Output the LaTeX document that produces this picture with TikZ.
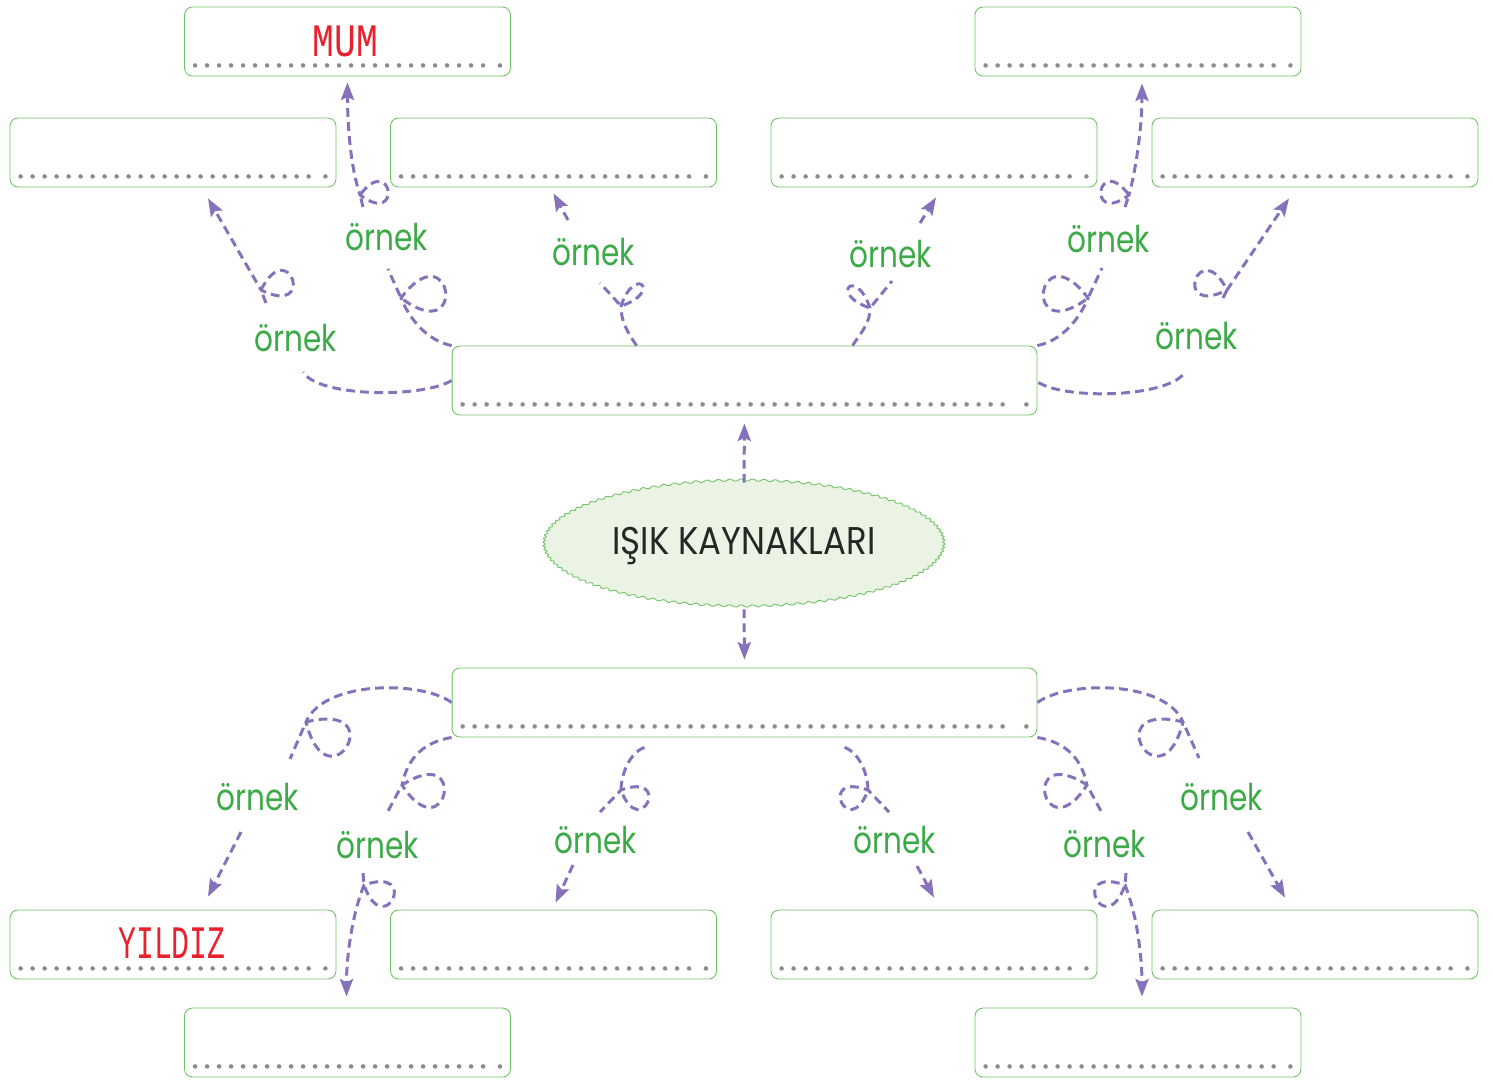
\documentclass[tikz,border=0pt]{standalone}
\usepackage{fontspec}
\usetikzlibrary{arrows.meta, shapes.geometric}
\newfontfamily\kidfont[FakeStretch = 0.8]{Poppins}
\newfontfamily\titlefont[FakeStretch = 0.88]{Poppins}
\newfontfamily\redfont[FakeStretch = 0.64]{Liberation Mono}
\newfontfamily\mumfont[FakeStretch = 0.78]{Liberation Mono}
\definecolor{boxgreen}{RGB}{110,195,100}
\definecolor{srcfill}{RGB}{235,243,229}
\definecolor{ornekgreen}{RGB}{61,170,72}
\definecolor{linkpurple}{RGB}{134,114,186}
\definecolor{answerred}{RGB}{233,33,45}
\definecolor{dotgray}{RGB}{140,140,140}
\begin{document}
\begin{tikzpicture}[x = .02cm, y = -.02cm,
		box/.style = {draw = boxgreen, line width = .5pt, rounded corners = 4.5pt, minimum width = 6.52cm, minimum height = 1.38cm, inner sep = 0pt},
		wide/.style = {box, minimum width = 11.7cm},
		source/.style = {ellipse, minimum width = 8cm, minimum height = 2.52cm, font = \titlefont\fontsize{22}{22}\selectfont, text = black!85},
		ornek/.style = {inner sep = 0pt, text = ornekgreen, font = \kidfont\fontsize{21}{21}\selectfont},
		answer/.style = {text = answerred, font = \redfont\fontsize{26.5}{26.5}\selectfont},
		dots/.style = {draw = dotgray, line width = 2.6pt, line cap = round, dash pattern = on 0pt off 6.83pt},
		dashlink/.style = {draw = linkpurple, line width = 1.7pt, dash pattern = on 5pt off 3pt},
		dasharrow/.style = {dashlink, -{Stealth[length = 10pt, width = 7.5pt, inset = 1.8pt]}}]
	\useasboundingbox (0,0) rectangle (1493,1080);
	\filldraw[fill = srcfill, draw = boxgreen, line width = .5pt] plot[domain = 0:360, samples = 900, smooth] ({744+(200+1.1*sin(10*mod(11*\x,36)))*cos(\x)}, {543+(63+1.1*sin(10*mod(11*\x,36)))*sin(\x)}) -- cycle;
	\node[box] (mum) at (347.5,41.5) {};
	\node[box] (tr) at (1138,41.5) {};
	\node[box] (r1) at (173,152.5) {};
	\node[box] (r2) at (553.5,152.5) {};
	\node[box] (r3) at (934,152.5) {};
	\node[box] (r4) at (1315,152.5) {};
	\node[wide] (top) at (744.5,380.5) {};
	\node[source] (src) at (744,546) {IŞIK KAYNAKLARI};
	\node[wide] (bot) at (744.5,702.5) {};
	\node[box] (s1) at (173,944.5) {};
	\node[box] (s2) at (553.5,944.5) {};
	\node[box] (s3) at (934,944.5) {};
	\node[box] (s4) at (1315,944.5) {};
	\node[box] (b1) at (347.5,1042.5) {};
	\node[box] (b2) at (1138,1042.5) {};
	\node[answer, font = \mumfont\fontsize{26.5}{26.5}\selectfont] (mumtext) at ([shift = {(-2,0)}]mum.center) {MUM};
	\node[answer] (yildiztext) at ([shift = {(-1,-1)}]s1.center) {YILDIZ};
	\foreach \b in {mum, tr, r1, r2, r3, r4, top, bot, s1, s2, s3, s4, b1, b2} {
		\draw[dots] ([shift = {(11,-11)}]\b.south west) -- ([shift = {(-24,-11)}]\b.south east);
		\fill[dotgray] ([shift = {(-11,-11)}]\b.south east) circle (1.3pt);
	}
	\node[ornek] (o1) at (296,338) {örnek};
	\node[ornek] (o2) at (387,237) {örnek};
	\node[ornek] (o3) at (594,252) {örnek};
	\node[ornek] (o4) at (891,254) {örnek};
	\node[ornek] (o5) at (1109,239) {örnek};
	\node[ornek] (o6) at (1197,336) {örnek};
	\node[ornek] (o7) at (258,797) {örnek};
	\node[ornek] (o8) at (378,845) {örnek};
	\node[ornek] (o9) at (596,840) {örnek};
	\node[ornek] (o10) at (895,840) {örnek};
	\node[ornek] (o11) at (1105,844) {örnek};
	\node[ornek] (o12) at (1222,797) {örnek};
	\draw[dasharrow, shorten > = .16cm] (src.north) -- (top.south);
	\draw[dasharrow, shorten > = .16cm] (src.south) -- (bot.north);
	\draw[dashlink] (top.west) .. controls +(-30,18) and +(15,25) .. ([shift = {(7,34)}]o1.center);
	\draw[dasharrow] ([shift = {(-30,-35)}]o1.center) -- (261,290) .. controls +(28,-56) and +(56,28) .. +(0,0) -- ([shift = {(35,11)}]r1.south);
	\draw[dashlink] (top.north west) .. controls +(-25,-5) and +(8,20) .. (401,298) .. controls +(51,-68) and +(68,51) .. +(0,0) -- ([shift = {(1,32)}]o2.center);
	\draw[dasharrow] ([shift = {(-24,-30)}]o2.center) -- (360,195) .. controls +(32,-43) and +(43,32) .. +(0,0) .. controls +(-10,-30) and +(0,40) .. ([shift = {(0,6)}]mum.south);
	\draw[dashlink] ([shift = {(-108,0)}]top.north) .. controls +(-10,-15) and +(0,15) .. (621,306) .. controls +(14,-42) and +(42,-14) .. +(0,0) -- ([shift = {(6,31)}]o3.center);
	\draw[dasharrow] ([shift = {(-26,-32)}]o3.center) -- ([shift = {(0,6)}]r2.south);
	\draw[dashlink] ([shift = {(108,0)}]top.north) .. controls +(10,-15) and +(0,15) .. (870,308) .. controls +(-14,-42) and +(-42,-14) .. +(0,0) -- ([shift = {(1,27)}]o4.center);
	\draw[dasharrow] ([shift = {(29,-31)}]o4.center) -- ([shift = {(2,10)}]r3.south);
	\draw[dashlink] (top.north east) .. controls +(25,-5) and +(-8,20) .. (1088,298) .. controls +(-51,-68) and +(-68,51) .. +(0,0) -- ([shift = {(-7,29)}]o5.center);
	\draw[dasharrow] ([shift = {(16,-32)}]o5.center) -- (1129,195) .. controls +(-32,-43) and +(-43,32) .. +(0,0) .. controls +(8,-30) and +(0,40) .. ([shift = {(4,7)}]tr.south);
	\draw[dashlink] ([shift = {(1,2)}]top.east) .. controls +(30,18) and +(-15,25) .. ([shift = {(-12,36)}]o6.center);
	\draw[dasharrow] ([shift = {(26,-38)}]o6.center) -- (1227,290) .. controls +(-28,-56) and +(-56,28) .. +(0,0) -- ([shift = {(-26,11)}]r4.south);
	\draw[dashlink] (bot.west) .. controls +(-30,-22) and +(18,-42) .. (306,722) .. controls +(22,87) and +(87,-22) .. +(0,0) -- ([shift = {(32,-38)}]o7.center);
	\draw[dasharrow] ([shift = {(-17,35)}]o7.center) -- ([shift = {(35,-13)}]s1.north);
	\draw[dashlink] (bot.south west) .. controls +(-30,5) and +(5,-25) .. (402,785) .. controls +(44,68) and +(68,-44) .. +(0,0) -- ([shift = {(9,-32)}]o8.center);
	\draw[dasharrow] ([shift = {(-15,28)}]o8.center) -- (364,885) .. controls +(20,57) and +(57,-20) .. +(0,0) .. controls +(-12,30) and +(0,-40) .. ([shift = {(-1,-11)}]b1.north);
	\draw[dashlink] ([shift = {(-100,10)}]bot.south) .. controls +(-15,5) and +(0,-15) .. (621,790) .. controls +(19,52) and +(52,-19) .. +(0,0) -- ([shift = {(4,-28)}]o9.center);
	\draw[dasharrow] ([shift = {(-23,25)}]o9.center) -- ([shift = {(2,-7)}]s2.north);
	\draw[dashlink] ([shift = {(100,10)}]bot.south) .. controls +(15,5) and +(0,-15) .. (868,790) .. controls +(-19,52) and +(-52,-19) .. +(0,0) -- ([shift = {(-6,-28)}]o10.center);
	\draw[dasharrow] ([shift = {(22,26)}]o10.center) -- ([shift = {(0,-12)}]s3.north);
	\draw[dashlink] (bot.south east) .. controls +(30,5) and +(-5,-25) .. (1087,785) .. controls +(-44,68) and +(-68,-44) .. +(0,0) -- ([shift = {(-3,-31)}]o11.center);
	\draw[dasharrow] ([shift = {(21,29)}]o11.center) -- (1125,885) .. controls +(-20,57) and +(-57,-20) .. +(0,0) .. controls +(12,30) and +(0,-40) .. ([shift = {(4,-11)}]b2.north);
	\draw[dashlink] (bot.east) .. controls +(30,-22) and +(-18,-42) .. (1183,722) .. controls +(-22,87) and +(-87,-22) .. +(0,0) -- ([shift = {(-23,-39)}]o12.center);
	\draw[dasharrow] ([shift = {(26,35)}]o12.center) -- ([shift = {(-30,-12)}]s4.north);
\end{tikzpicture}
\end{document}
